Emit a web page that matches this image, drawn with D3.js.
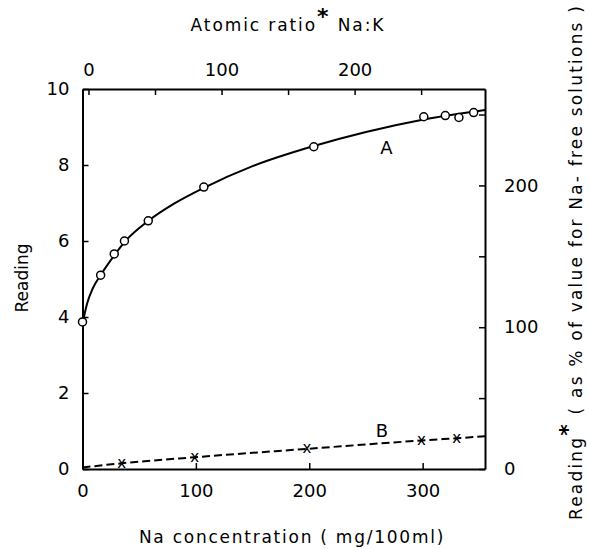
<!DOCTYPE html>
<html><head><meta charset="utf-8">
<script src="https://cdn.jsdelivr.net/npm/d3@7"></script>
<style>body{margin:0;background:#fff}svg{display:block}text{font-family:"DejaVu Sans",sans-serif;fill:#000}</style>
</head><body><svg id="c" width="589" height="549"></svg>
<script>
// Data
const naConcA = [0, 16, 28, 37, 58, 107, 204, 301, 320, 332, 345];
const readingA = [3.87, 5.1, 5.66, 6.0, 6.53, 7.42, 8.48, 9.27, 9.3, 9.25, 9.38];
const fitA_x = [0, 4, 9, 16, 28, 37, 58, 80, 107, 150, 204, 250, 301, 355];
const fitA_y = [3.82, 4.35, 4.75, 5.1, 5.62, 5.97, 6.53, 6.97, 7.4, 7.97, 8.5, 8.87, 9.2, 9.45];
const naConcB = [34.5, 99, 198, 299, 330];
const readingB = [0.15, 0.31, 0.53, 0.75, 0.81];
const fitB_x = [0, 34.5, 99, 198, 299, 330, 355];
const fitB_y = [0.04, 0.15, 0.31, 0.53, 0.75, 0.81, 0.86];
const bottomTicks = [0, 100, 200, 300];
const leftTicks = [0, 2, 4, 6, 8, 10];
const topTicks = [0, 50, 100, 150, 200, 250];
const topLabels = [0, 100, 200];
const rightTicks = [0, 50, 100, 150, 200, 250];
const rightLabels = [0, 100, 200];

const svg = d3.select("#c");
const L = 82.5, R = 485, T = 89, B = 469;
const x = d3.scaleLinear().domain([0, 355]).range([L, R]);
const y = d3.scaleLinear().domain([0, 10]).range([B, T]);
const xTop = d3.scaleLinear().domain([-4.5, 298]).range([L, R]);
const yRight = d3.scaleLinear().domain([0, 268]).range([B, T]);

function style(g){ g.select(".domain").attr("stroke","#000").attr("stroke-width",2);
  g.selectAll(".tick line").attr("stroke","#000").attr("stroke-width",1.5);
  g.selectAll(".tick text").attr("font-size",18).attr("font-family","DejaVu Sans, sans-serif").attr("fill","#000"); }

const gb = svg.append("g").attr("transform",`translate(0,${B})`)
  .call(d3.axisBottom(x).tickValues(bottomTicks).tickSizeInner(-6).tickSizeOuter(0).tickPadding(15).tickFormat(d3.format("d")));
style(gb);
const gl = svg.append("g").attr("transform",`translate(${L},0)`)
  .call(d3.axisLeft(y).tickValues(leftTicks).tickSizeInner(-6).tickSizeOuter(0).tickPadding(13).tickFormat(d3.format("d")));
style(gl);
const gt = svg.append("g").attr("transform",`translate(0,${T})`)
  .call(d3.axisTop(xTop).tickValues(topTicks).tickSizeInner(-6).tickSizeOuter(0).tickPadding(13)
    .tickFormat(d => topLabels.includes(d) ? d3.format("d")(d) : ""));
style(gt);
const gr = svg.append("g").attr("transform",`translate(${R},0)`)
  .call(d3.axisRight(yRight).tickValues(rightTicks).tickSizeInner(-6).tickSizeOuter(0).tickPadding(19)
    .tickFormat(d => rightLabels.includes(d) ? d3.format("d")(d) : ""));
style(gr);

const lineA = d3.line().x(d=>x(d[0])).y(d=>y(d[1])).curve(d3.curveMonotoneX);
svg.append("path").datum(fitA_x.map((v,i)=>[v,fitA_y[i]])).attr("d",lineA)
  .attr("fill","none").attr("stroke","#000").attr("stroke-width",2);
svg.selectAll("circle.a").data(naConcA.map((v,i)=>[v,readingA[i]])).join("circle")
  .attr("cx",d=>x(d[0])).attr("cy",d=>y(d[1])).attr("r",4)
  .attr("fill","#fff").attr("stroke","#000").attr("stroke-width",1.5);

svg.append("path").datum(fitB_x.map((v,i)=>[v,fitB_y[i]])).attr("d",lineA)
  .attr("fill","none").attr("stroke","#000").attr("stroke-width",2).attr("stroke-dasharray","8,4");
svg.selectAll("text.b").data(naConcB.map((v,i)=>[v,readingB[i]])).join("text")
  .attr("x",d=>x(d[0])).attr("y",d=>y(d[1])).attr("dy","0.3em").attr("text-anchor","middle")
  .attr("font-size",15).text("x");

svg.append("text").attr("x",x(268)).attr("y",y(8.3)).attr("text-anchor","middle").attr("font-size",18).text("A");
svg.append("text").attr("x",x(264)).attr("y",y(0.84)).attr("text-anchor","middle").attr("font-size",18).text("B");

const tt = svg.append("text").attr("x",288).attr("y",31).attr("text-anchor","middle").attr("font-size",17).attr("letter-spacing",1.9);
tt.append("tspan").text("Atomic ratio");
tt.append("tspan").attr("dy",-7).attr("font-size",22).attr("font-weight","bold").text("*");
tt.append("tspan").attr("dy",7).text(" Na:K");
svg.append("text").attr("x",292).attr("y",543).attr("text-anchor","middle").attr("font-size",17).attr("letter-spacing",1.75)
  .text("Na concentration ( mg/100ml)");
svg.append("text").attr("transform","translate(28,278) rotate(-90)").attr("text-anchor","middle").attr("font-size",17)
  .text("Reading");
const rt = svg.append("text").attr("transform","translate(582,262) rotate(-90)").attr("text-anchor","middle").attr("font-size",17).attr("letter-spacing",2.2);
rt.append("tspan").text("Reading");
rt.append("tspan").attr("dy",-7).attr("font-size",22).attr("font-weight","bold").text("*");
rt.append("tspan").attr("dy",7).text(" ( as % of value for Na- free solutions )");
</script></body></html>
